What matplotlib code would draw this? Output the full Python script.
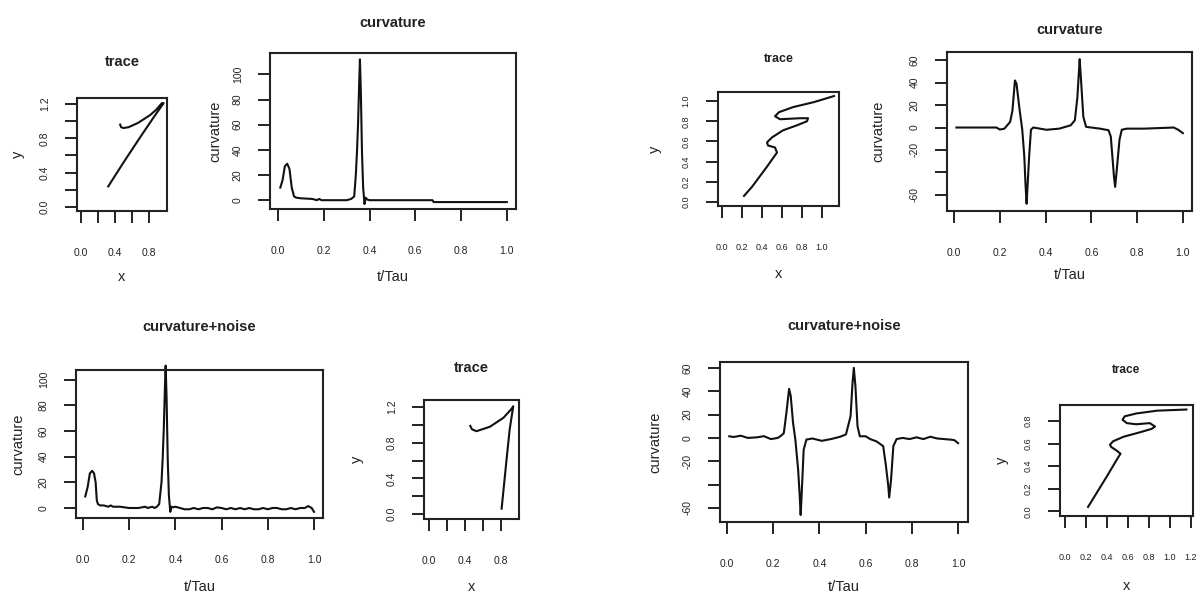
import matplotlib
matplotlib.use("Agg")
import matplotlib.pyplot as plt

plt.rcParams['font.family'] = ['Liberation Sans', 'DejaVu Sans']

# ---------------- data ----------------
# top-left trace
x1 = [0.32, 0.50, 0.70, 0.85, 0.97, 0.95, 0.88, 0.81, 0.67, 0.56, 0.50, 0.47, 0.46]
y1 = [0.24, 0.52, 0.82, 1.04, 1.21, 1.21, 1.13, 1.07, 0.98, 0.93, 0.92, 0.93, 0.96]

# top-left curvature
t2 = [0.01, 0.02, 0.03, 0.04, 0.05, 0.06, 0.07, 0.08, 0.10, 0.15, 0.17, 0.18, 0.19, 0.25,
      0.30, 0.32, 0.333, 0.34, 0.345, 0.35, 0.355, 0.358, 0.362, 0.367, 0.372, 0.378,
      0.383, 0.39, 0.40, 0.50, 0.60, 0.675, 0.68, 0.80, 0.90, 1.00]
c2 = [10, 16, 27, 29, 25, 10, 3, 2, 1.5, 1, 0, 1, 0, 0,
      0, 1, 3, 20, 38, 62, 95, 112, 86, 38, 10, -3,
      2, 0.5, 0, 0, 0, 0, -1.5, -1.5, -1.5, -1.5]

# top-right trace
x3 = [0.22, 0.30, 0.45, 0.55, 0.53, 0.46, 0.45, 0.50, 0.61, 0.75, 0.85, 0.86, 0.78, 0.58,
      0.53, 0.57, 0.71, 0.92, 1.12]
y3 = [0.06, 0.15, 0.35, 0.49, 0.54, 0.56, 0.59, 0.64, 0.71, 0.76, 0.80, 0.83, 0.83, 0.82,
      0.85, 0.89, 0.94, 0.99, 1.05]

# top-right curvature
t4 = [0.01, 0.185, 0.20, 0.22, 0.245, 0.255, 0.266, 0.273, 0.285, 0.298, 0.307, 0.312, 0.317,
      0.321, 0.328, 0.336, 0.346, 0.404, 0.46, 0.51, 0.528, 0.539, 0.546, 0.549, 0.555, 0.565,
      0.577, 0.638, 0.675, 0.685, 0.692, 0.699, 0.704, 0.711, 0.723, 0.733, 0.755, 0.83, 0.96,
      0.98, 1.0]
c4 = [0, 0, -1.8, -1, 5, 15, 42, 39, 18, -2, -26, -50, -68,
      -53, -26, -2, 0, -2, -1, 2, 6.5, 27, 51, 61, 42, 9.5,
      0.6, -1, -2.4, -8, -26, -44, -53, -38, -11, -2, -1, -1, 0,
      -2, -5]

# bottom-left curvature + noise
t5 = [0.010, 0.020, 0.030, 0.040, 0.048, 0.055, 0.060, 0.065, 0.075, 0.090, 0.110, 0.120, 0.130,
      0.160, 0.200, 0.240, 0.270, 0.280, 0.300, 0.310, 0.320, 0.330, 0.340, 0.345, 0.350, 0.355,
      0.358, 0.362, 0.367, 0.372, 0.378, 0.383, 0.390, 0.400, 0.420, 0.440, 0.460, 0.480, 0.500,
      0.520, 0.540, 0.560, 0.580, 0.600, 0.620, 0.640, 0.660, 0.680, 0.700, 0.720, 0.740, 0.760,
      0.780, 0.800, 0.820, 0.840, 0.860, 0.880, 0.900, 0.920, 0.940, 0.960, 0.975, 0.990, 1.000]
c5 = [9, 16, 27, 29, 27, 20, 6, 3, 2, 2, 1, 2, 1,
      1, 0, 0, 1, 0, 1, 0, 1, 3, 20, 38, 62, 95,
      111, 86, 38, 10, -3, 1, 0.5, 1, 0, -1, -1, 0, -1,
      0, 0, -1, 0.5, 0, -1, 0, -1, 0, -1, 0, -1, -1,
      0, -1, 0, 0, -1, -1, 0, -1, 0, 0, 1.5, 0, -3]

# bottom-middle trace
x6 = [0.81, 0.84, 0.87, 0.90, 0.94, 0.92, 0.83, 0.68, 0.53, 0.48, 0.46]
y6 = [0.06, 0.36, 0.66, 0.95, 1.21, 1.18, 1.08, 0.98, 0.93, 0.95, 0.99]

# bottom-right curvature + noise
t7 = [0.01, 0.03, 0.06, 0.09, 0.13, 0.16, 0.19, 0.22, 0.235, 0.246, 0.257, 0.269, 0.276,
      0.286, 0.296, 0.308, 0.315, 0.319, 0.325, 0.332, 0.344, 0.37, 0.41, 0.45, 0.49, 0.515,
      0.535, 0.543, 0.549, 0.556, 0.565, 0.575, 0.60, 0.62, 0.647, 0.676, 0.688, 0.698, 0.702,
      0.71, 0.72, 0.734, 0.76, 0.79, 0.82, 0.85, 0.88, 0.91, 0.94, 0.97, 0.985, 1.0]
c7 = [1.4, 0.8, 1.9, 0, 0.5, 1.5, -1, 0, 2, 4, 21, 42, 36,
      13, -1.4, -27, -50, -66, -41, -10, -1.4, -0.5, -2.5, -1, 1, 3,
      18.6, 46, 60, 44, 10, 1.4, 1.4, -1, -3, -7, -24, -41, -51,
      -36, -7, -1, 0, -1, 0.5, -1, 1, -0.5, -1, -1.5, -2, -4.5]

# bottom-right trace
x8 = [0.22, 0.30, 0.40, 0.49, 0.53, 0.49, 0.44, 0.43, 0.46, 0.56, 0.72, 0.83, 0.86, 0.81,
      0.68, 0.59, 0.55, 0.57, 0.68, 0.88, 1.16]
y8 = [0.04, 0.16, 0.31, 0.45, 0.51, 0.54, 0.57, 0.59, 0.62, 0.66, 0.70, 0.73, 0.75, 0.78,
      0.77, 0.78, 0.81, 0.84, 0.865, 0.89, 0.90]

# tick values / labels
trace_ticks_a = [0.0, 0.2, 0.4, 0.6, 0.8]
trace_ticks_a_lbl = ['0.0', '', '0.4', '', '0.8']
trace_yticks_a = [0.0, 0.2, 0.4, 0.6, 0.8, 1.0, 1.2]
trace_yticks_a_lbl = ['0.0', '', '0.4', '', '0.8', '', '1.2']
tau_ticks = [0.0, 0.2, 0.4, 0.6, 0.8, 1.0]
tau_ticks_lbl = ['0.0', '0.2', '0.4', '0.6', '0.8', '1.0']
curv1_yticks = [0, 20, 40, 60, 80, 100]
curv1_yticks_lbl = ['0', '20', '40', '60', '80', '100']
curv2_yticks = [-60, -40, -20, 0, 20, 40, 60]
curv2_yticks_lbl = ['-60', '', '-20', '0', '20', '40', '60']
trace3_xticks = [0.0, 0.2, 0.4, 0.6, 0.8, 1.0]
trace3_xticks_lbl = ['0.0', '0.2', '0.4', '0.6', '0.8', '1.0']
trace3_yticks = [0.0, 0.2, 0.4, 0.6, 0.8, 1.0]
trace3_yticks_lbl = ['0.0', '0.2', '0.4', '0.6', '0.8', '1.0']
trace8_xticks = [0.0, 0.2, 0.4, 0.6, 0.8, 1.0, 1.2]
trace8_xticks_lbl = ['0.0', '0.2', '0.4', '0.6', '0.8', '1.0', '1.2']
trace8_yticks = [0.0, 0.2, 0.4, 0.6, 0.8]
trace8_yticks_lbl = ['0.0', '0.2', '0.4', '0.6', '0.8']

# ---------------- figure ----------------
W, H = 1196, 595
fig = plt.figure(figsize=(W / 100, H / 100), dpi=100)


def panel(box, xlim, ylim, xt, xtl, yt, ytl, title, title_y, title_fs, xlabel, xlabel_y,
          ylabel, ylabel_x, tick_fs=7.5, xlabel_fs=10.5):
    l, t, r, b = box
    ax = fig.add_axes([l / W, 1 - b / H, (r - l) / W, (b - t) / H])
    ax.set_xlim(*xlim)
    ax.set_ylim(*ylim)
    ax.set_xticks(xt)
    ax.set_xticklabels(xtl)
    ax.set_yticks(yt)
    ax.set_yticklabels(ytl, rotation=90, va='center')
    ax.tick_params(axis='both', direction='out', length=8.6, width=1.4, labelsize=tick_fs,
                   colors='#222222')
    ax.tick_params(axis='x', pad=18)
    ax.tick_params(axis='y', pad=11)
    for s in ax.spines.values():
        s.set_linewidth(1.5)
        s.set_color('#222222')
    cx = (l + r) / 2 / W
    fig.text(cx, 1 - title_y / H, title, ha='center', va='center', fontsize=title_fs,
             fontweight='bold', color='#222222')
    fig.text(cx, 1 - xlabel_y / H, xlabel, ha='center', va='center', fontsize=xlabel_fs,
             color='#222222')
    fig.text(ylabel_x / W, 1 - (t + b) / 2 / H, ylabel, ha='center', va='center', rotation=90,
             fontsize=10.5, color='#222222')
    return ax


lc = '#111111'
lw = 1.5

ax1 = panel((77, 98, 167, 211), (-0.047, 1.01), (-0.047, 1.27), trace_ticks_a, trace_ticks_a_lbl,
            trace_yticks_a, trace_yticks_a_lbl, 'trace', 62, 10.5, 'x', 277, 'y', 18)
ax1.plot(x1, y1, color=lc, lw=lw)

ax2 = panel((270, 53, 516, 209), (-0.035, 1.04), (-7, 117), tau_ticks, tau_ticks_lbl,
            curv1_yticks, curv1_yticks_lbl, 'curvature', 23, 10.5, 't/Tau', 277, 'curvature', 215)
ax2.plot(t2, c2, color=lc, lw=lw)

ax3 = panel((718, 92, 839, 206), (-0.04, 1.17), (-0.04, 1.09), trace3_xticks, trace3_xticks_lbl,
            trace3_yticks, trace3_yticks_lbl, 'trace', 59, 9, 'x', 274, 'y', 655, tick_fs=6.5)
ax3.plot(x3, y3, color=lc, lw=lw)

ax4 = panel((947, 52, 1192, 211), (-0.031, 1.04), (-74.5, 67.4), tau_ticks, tau_ticks_lbl,
            curv2_yticks, curv2_yticks_lbl, 'curvature', 30, 10.5, 't/Tau', 275, 'curvature', 878)
ax4.plot(t4, c4, color=lc, lw=lw)

ax5 = panel((76, 370, 323, 518), (-0.03, 1.039), (-7.8, 107.6), tau_ticks, tau_ticks_lbl,
            curv1_yticks, curv1_yticks_lbl, 'curvature+noise', 327, 10.5, 't/Tau', 587,
            'curvature', 18)
ax5.plot(t5, c5, color=lc, lw=lw, clip_on=False)

ax6 = panel((424, 400, 519, 519), (-0.056, 1.004), (-0.056, 1.28), trace_ticks_a,
            trace_ticks_a_lbl, trace_yticks_a, trace_yticks_a_lbl, 'trace', 368, 10.5, 'x', 587,
            'y', 357)
ax6.plot(x6, y6, color=lc, lw=lw)

ax7 = panel((720, 362, 968, 522), (-0.03, 1.043), (-72, 65), tau_ticks, tau_ticks_lbl,
            curv2_yticks, curv2_yticks_lbl, 'curvature+noise', 326, 10.5, 't/Tau', 587,
            'curvature', 655)
ax7.plot(t7, c7, color=lc, lw=lw)

ax8 = panel((1060, 405, 1193, 516), (-0.048, 1.223), (-0.04, 0.94), trace8_xticks,
            trace8_xticks_lbl, trace8_yticks, trace8_yticks_lbl, 'trace', 370, 8.5, 'x', 586,
            'y', 1002, tick_fs=6.5)
ax8.plot(x8, y8, color=lc, lw=lw)

fig.savefig('out.png', dpi=100, facecolor='white')
